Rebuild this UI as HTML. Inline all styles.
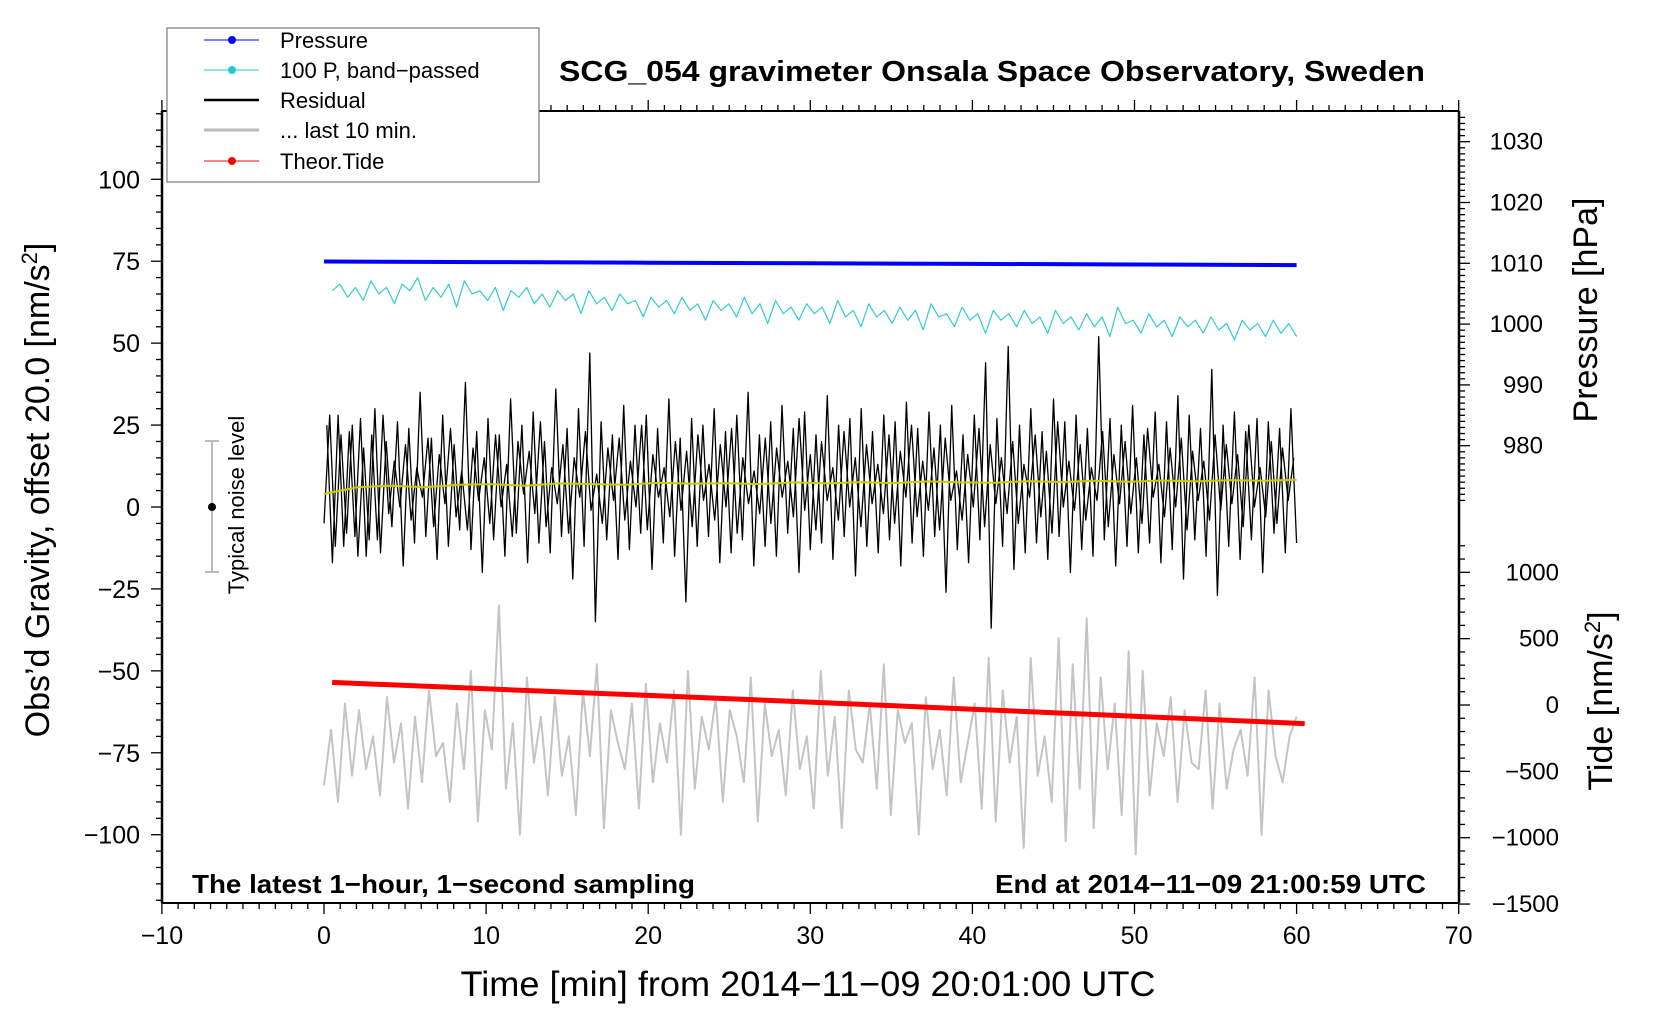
<!DOCTYPE html>
<html><head><meta charset="utf-8"><style>
html,body{margin:0;padding:0;background:#fff;}
svg{display:block;font-family:"Liberation Sans",sans-serif;}
</style></head><body>
<svg id="chart" width="1660" height="1020" viewBox="0 0 1660 1020" xmlns="http://www.w3.org/2000/svg">
<g id="marks"></g>
<g id="axes"></g>
<g id="legend">
 <rect x="167" y="28" width="372" height="154" fill="#fff" stroke="#777" stroke-width="1.2"/>
 <g><line x1="204" y1="40" x2="259" y2="40" stroke="#00f" stroke-width="1"/><circle cx="232" cy="40" r="4" fill="#00f"/><text x="280" y="48" font-size="22">Pressure</text></g>
 <g><line x1="204" y1="70" x2="259" y2="70" stroke="#2cc" stroke-width="1"/><circle cx="232" cy="70" r="4" fill="#2cc"/><text x="280" y="78" font-size="22">100 P, band−passed</text></g>
 <g><line x1="204" y1="100" x2="259" y2="100" stroke="#000" stroke-width="2.5"/><text x="280" y="108" font-size="22">Residual</text></g>
 <g><line x1="204" y1="130" x2="259" y2="130" stroke="#bbb" stroke-width="3"/><text x="280" y="138" font-size="22">... last 10 min.</text></g>
 <g><line x1="204" y1="161" x2="259" y2="161" stroke="#f00" stroke-width="1"/><circle cx="232" cy="161" r="4" fill="#f00"/><text x="280" y="169" font-size="22">Theor.Tide</text></g>
</g>
<text x="992" y="81" font-size="29" font-weight="bold" text-anchor="middle" textLength="866" lengthAdjust="spacingAndGlyphs">SCG_054 gravimeter Onsala Space Observatory, Sweden</text>
<text x="192" y="893" font-size="26" font-weight="bold" textLength="503" lengthAdjust="spacingAndGlyphs">The latest 1−hour, 1−second sampling</text>
<text x="1426" y="893" font-size="26" font-weight="bold" text-anchor="end" textLength="431" lengthAdjust="spacingAndGlyphs">End at 2014−11−09 21:00:59 UTC</text>
<text x="808" y="996" font-size="35" text-anchor="middle" textLength="695" lengthAdjust="spacingAndGlyphs">Time [min] from 2014−11−09 20:01:00 UTC</text>
<text transform="translate(49,490) rotate(-90)" font-size="34" text-anchor="middle">Obs’d Gravity, offset 20.0 [nm/s<tspan font-size="22" dy="-12">2</tspan><tspan dy="12">]</tspan></text>
<text transform="translate(1597,310) rotate(-90)" font-size="34" text-anchor="middle">Pressure [hPa]</text>
<text transform="translate(1612,701) rotate(-90)" font-size="34" text-anchor="middle">Tide [nm/s<tspan font-size="22" dy="-12">2</tspan><tspan dy="12">]</tspan></text>
<g>
 <line x1="212" y1="441" x2="212" y2="572" stroke="#bbb" stroke-width="2"/>
 <line x1="205" y1="441" x2="219" y2="441" stroke="#bbb" stroke-width="2"/>
 <line x1="205" y1="572" x2="219" y2="572" stroke="#bbb" stroke-width="2"/>
 <circle cx="212" cy="507" r="4" fill="#000"/>
 <text transform="translate(244,505) rotate(-90)" font-size="22" text-anchor="middle">Typical noise level</text>
</g>
</svg>
<script>
const xTicks=[-10,0,10,20,30,40,50,60,70];
const yTicks=[-100,-75,-50,-25,0,25,50,75,100];
const pTicks=[980,990,1000,1010,1020,1030];
const tideTicks=[-1500,-1000,-500,0,500,1000];
const pressureT=[0,10,20,30,40,50,60];
const pressure=[1010.3,1010.2,1010.1,1010.0,1009.9,1009.8,1009.7];
const tideT=[0.5,10,20,30,40,50,60.5];
const tide=[170,122,72,22,-32,-85,-140];
const residual=[-5,28,-12,22,-8,25,-15,18,-10,30,-14,20,-6,26,-18,24,-11,35,-9,21,-16,28,-12,19,-7,38,-13,23,-20,27,-10,22,-15,33,-8,25,-17,29,-11,20,-14,36,-9,24,-22,30,-12,47,-35,26,-10,22,-16,31,-13,25,-8,28,-19,24,-11,33,-15,21,-29,27,-12,25,-9,30,-17,23,-14,28,-10,35,-18,22,-12,26,-15,31,-8,24,-20,29,-13,22,-11,34,-16,25,-9,27,-21,30,-12,23,-14,28,-10,26,-18,32,-11,24,-15,29,-9,25,-26,31,-13,22,-17,28,-10,44,-37,27,-12,49,-19,25,-14,30,-11,23,-16,33,-9,26,-20,28,-13,24,-15,52,-10,27,-18,25,-12,31,-14,22,-11,29,-17,26,-13,34,-22,28,-10,24,-15,42,-27,25,-12,29,-16,23,-10,27,-20,26,-8,24,-14,30,-11,25,-17,28,-12,23,-9,27,-15,22,-10,28,
-2,14,0,19,-4,12,3,21,-6,16,1,24,-3,11,-7,18,2,15,-5,22,0,13,-9,20,4,17,-2,26,-6,12,1,19,-8,15,3,23,-1,10,-5,18,2,21,-4,14,0,25,-7,16,3,12,-3,20,-1,17,-6,22,2,13,-4,19,0,24,-8,15,1,11,-2,21,-5,18,3,14,-3,27,-1,16,-7,20,2,12,-4,23,0,15,-6,19,1,13,-2,22,-5,17,3,25,-3,14,-1,18,-7,21,2,11,-4,16,0,24,-6,19,1,15,-2,20,-5,13,3,22,-3,17,-8,26,0,14,-1,19,-4,12,2,23,-6,16,1,20,-2,15,-5,24,3,13,-3,18,0,21,-7,17,2,14,-4,22,-1,19,1,16,-6,25,0,12,-3,20,-5,18,2,15];
const smooth=[4,6,6.5,6,6.8,7,6.5,7.2,7,6.8,7.4,7.1,7.3,7,7.5,7.2,7.6,7.3,7.8,7.5,7.4,7.9,7.6,8,7.7,8.1,7.8,8.2,8,8.3];
const bandP=[66,68,64,67,63,69,65,67,62,68,66,70,63,67,64,68,61,69,65,66,63,67,60,66,64,67,62,65,61,66,63,65,59,66,62,64,60,65,62,63,58,64,61,63,59,64,60,62,57,63,60,62,58,64,59,62,56,63,59,61,57,62,59,61,56,63,58,60,55,62,58,60,56,61,57,60,54,62,58,59,55,61,57,59,53,60,57,59,55,60,56,58,53,60,56,58,54,59,55,58,52,61,56,57,53,59,55,57,52,58,55,57,53,58,54,56,51,57,54,56,52,57,53,56,52];
const lastTen=[-85,-68,-90,-60,-82,-62,-80,-70,-88,-58,-78,-66,-92,-64,-84,-56,-76,-72,-90,-60,-80,-50,-96,-62,-74,-30,-86,-66,-100,-52,-78,-64,-88,-58,-82,-70,-94,-56,-76,-48,-98,-62,-72,-80,-60,-92,-54,-84,-66,-78,-56,-100,-50,-86,-64,-74,-58,-90,-62,-70,-84,-52,-96,-60,-76,-68,-88,-56,-80,-70,-92,-50,-82,-64,-98,-56,-74,-78,-60,-86,-48,-94,-62,-72,-66,-100,-58,-80,-68,-88,-52,-84,-72,-60,-92,-46,-96,-56,-78,-64,-104,-46,-82,-70,-90,-40,-102,-48,-86,-34,-98,-52,-80,-60,-94,-44,-106,-50,-88,-66,-76,-58,-90,-62,-78,-80,-56,-92,-60,-86,-74,-68,-82,-52,-100,-56,-76,-84,-70,-64];
const NS='http://www.w3.org/2000/svg';
const X0=324,XS=16.21,Y0=507,YS=3.277;
function sx(t){return X0+t*XS;}
function sy(v){return Y0-v*YS;}
function sp(p){return 263.3-(p-1010)*6.08;}
function st(v){return 705-v*0.1327;}
const marks=document.getElementById('marks'),axes=document.getElementById('axes');
function mk(tag,attrs,parent){const e=document.createElementNS(NS,tag);for(const k in attrs)e.setAttribute(k,attrs[k]);parent.appendChild(e);return e;}
function poly(pts,color,w,name){const e=mk('polyline',{points:pts.map(p=>p[0].toFixed(1)+','+p[1].toFixed(1)).join(' '),fill:'none',stroke:color,'stroke-width':w,'stroke-linejoin':'round'},marks);


return e;}
poly(lastTen.map((v,i)=>[sx(i*60/(lastTen.length-1)),sy(v)]),'#c4c4c4',2,'last-10-min-line');
const half=Math.ceil(residual.length/2);
const resA=residual.slice(0,half),resB=residual.slice(half);
poly(resA.map((v,i)=>[sx(i*60/(resA.length-1)),sy(v)]),'#000',1.3,'residual-line');
poly(resB.map((v,i)=>[sx((i+0.5)*60/(resB.length)),sy(v)]),'#000',1.3,'residual-line-core');
poly(smooth.map((v,i)=>[sx(i*60/(smooth.length-1)),sy(v)]),'#cc0',2,'residual-smoothed-line');
poly(bandP.map((v,i)=>[sx(0.5+i*59.5/(bandP.length-1)),sy(v)]),'#3cc',1.2,'bandpassed-pressure-line');
poly(pressure.map((v,i)=>[sx(pressureT[i]),sp(v)]),'#00f',4,'pressure-line');
poly(tide.map((v,i)=>[sx(tideT[i]),st(v)]),'#f00',5,'theor-tide-line');
const L=162,R=1459,T=111,B=903;
function ln(x1,y1,x2,y2,w){mk('line',{x1:x1,y1:y1,x2:x2,y2:y2,stroke:'#000','stroke-width':w},axes);}
ln(L,T,R,T,2);ln(L,B,R,B,2);ln(L,T,L,B,2.5);ln(R,T,R,B,2.5);
for(let m=-10;m<=70;m++){const x=sx(m);const major=m%10===0;const len=major?11:6;ln(x,B,x,B+len,1.3);ln(x,T,x,T-len,1.3);}
for(let v=-120;v<=120;v+=5){const y=sy(v);ln(L,y,L-(v%25===0?11:6),y,1.3);}
for(let p=971;p<=1034;p++){const y=sp(p);ln(R,y,R+(p%10===0?11:6),y,1.3);}
for(let v=-1500;v<=1200;v+=100){const y=st(v);if(y<540)continue;ln(R,y,R+(v%500===0?11:6),y,1.3);}
xTicks.forEach(t=>{const e=mk('text',{x:sx(t),y:944,'font-size':25,'text-anchor':'middle'},axes);e.textContent=String(t).replace('-','−');

});
yTicks.forEach(v=>{const e=mk('text',{x:140,y:sy(v)+9,'font-size':25,'text-anchor':'end'},axes);e.textContent=String(v).replace('-','−');

});
pTicks.forEach(v=>{const e=mk('text',{x:1543,y:sp(v)+8,'font-size':24,'text-anchor':'end'},axes);e.textContent=String(v);

});
tideTicks.forEach(v=>{const e=mk('text',{x:1559,y:st(v)+8,'font-size':24,'text-anchor':'end'},axes);e.textContent=String(v).replace('-','−');

});
</script>
</body></html>
